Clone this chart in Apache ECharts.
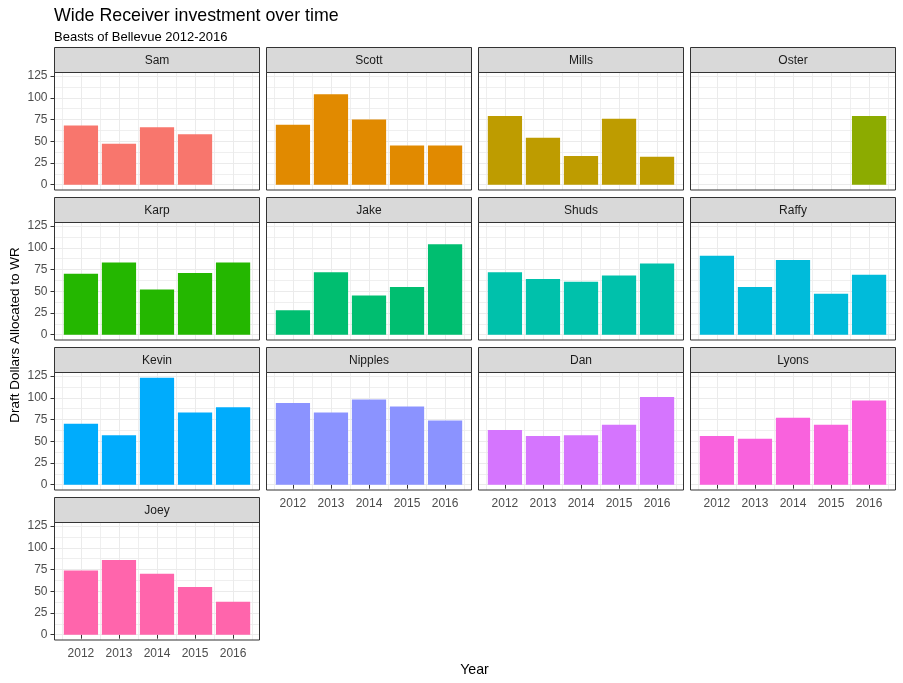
<!DOCTYPE html>
<html><head><meta charset="utf-8">
<script src="https://cdn.jsdelivr.net/npm/echarts@6/dist/echarts.min.js"></script>
<style>html,body{margin:0;padding:0;background:#fff}#c{width:903px;height:683px}</style>
</head><body><div id="c"></div>
<script>
const years = [2012, 2013, 2014, 2015, 2016];
const owners = ['Sam','Scott','Mills','Oster','Karp','Jake','Shuds','Raffy','Kevin','Nipples','Dan','Lyons','Joey'];
const sam = [68, 47, 66, 58, null];
const scott = [69, 104, 75, 45, 45];
const mills = [79, 54, 33, 76, 32];
const oster = [null, null, null, null, 79];
const karp = [70, 83, 52, 71, 83];
const jake = [28, 72, 45, 55, 104];
const shuds = [72, 64, 61, 68, 82];
const raffy = [91, 55, 86, 47, 69];
const kevin = [70, 57, 123, 83, 89];
const nipples = [94, 83, 98, 90, 74];
const dan = [63, 56, 57, 69, 101];
const lyons = [56, 53, 77, 69, 97];
const joey = [74, 86, 70, 55, 38];
const yTicks = [0, 25, 50, 75, 100, 125];
const yMinor = [12.5, 37.5, 62.5, 87.5, 112.5];
const xMinor = [2011.5, 2012.5, 2013.5, 2014.5, 2015.5, 2016.5];
const colors = ['#F8766D','#E18A00','#BE9C00','#8CAB00','#24B700','#00BE70','#00C1AB','#00BBDA','#00ACFC','#8B93FF','#D575FE','#F962DD','#FF65AC'];
const values = [sam, scott, mills, oster, karp, jake, shuds, raffy, kevin, nipples, dan, lyons, joey];

// layout
const FONT = 'Liberation Sans, Arial, sans-serif';
const colLeft = [54.5, 266.5, 478.5, 690.5];
const rowTop = [47.5, 197.5, 347.5, 497.5];
const panelW = 205, stripH = 25, plotH = 117.5;

// scale ranges (ggplot-like 5% expansion)
let vmax = 0;
values.forEach(a => a.forEach(v => { if (v != null && v > vmax) vmax = v; }));
const yMin = -0.05 * vmax, yMax = vmax * 1.05;
const xLo = years[0] - 0.45, xHi = years[years.length - 1] + 0.45;
const xPad = (xHi - xLo) * 0.05;
const xMin = xLo - xPad, xMax = xHi + xPad;
const barW = 0.9 * panelW / (xMax - xMin);

const grids = [], xAxes = [], yAxes = [], series = [], graphics = [];
const nPanels = owners.length;
owners.forEach((name, i) => {
  const col = i % 4, row = Math.floor(i / 4);
  const left = colLeft[col], top = rowTop[row];
  const isBottom = (i + 4 >= nPanels);
  const isLeft = col === 0;
  grids.push({ left: left, top: top + stripH, width: panelW, height: plotH, containLabel: false });
  // major x
  xAxes.push({
    gridIndex: i, type: 'value', min: xMin, max: xMax,
    axisLine: { show: false },
    axisTick: { show: isBottom, customValues: years, length: 4, lineStyle: { color: '#333333', width: 1 } },
    axisLabel: { show: isBottom, customValues: years, color: '#4D4D4D', fontSize: 12, fontFamily: FONT, margin: 8, formatter: v => String(v) },
    splitLine: { show: true, lineStyle: { color: '#EBEBEB', width: 1 } }
  });
  // minor x
  xAxes.push({
    gridIndex: i, type: 'value', min: xMin, max: xMax,
    axisLine: { show: false },
    axisTick: { show: false, customValues: xMinor },
    axisLabel: { show: false, customValues: xMinor },
    splitLine: { show: true, lineStyle: { color: '#EBEBEB', width: 0.8 } }
  });
  yAxes.push({
    gridIndex: i, type: 'value', min: yMin, max: yMax,
    axisLine: { show: false },
    axisTick: { show: isLeft, customValues: yTicks, length: 4, lineStyle: { color: '#333333', width: 1 } },
    axisLabel: { show: isLeft, customValues: yTicks, color: '#4D4D4D', fontSize: 12, fontFamily: FONT, margin: 7 },
    splitLine: { show: true, lineStyle: { color: '#EBEBEB', width: 1 } }
  });
  yAxes.push({
    gridIndex: i, type: 'value', min: yMin, max: yMax,
    axisLine: { show: false },
    axisTick: { show: false, customValues: yMinor },
    axisLabel: { show: false, customValues: yMinor },
    splitLine: { show: true, lineStyle: { color: '#EBEBEB', width: 0.8 } }
  });
  series.push({
    type: 'bar', name: name, xAxisIndex: 2 * i, yAxisIndex: 2 * i,
    barWidth: barW,
    itemStyle: { color: colors[i] },
    data: years.map((y, k) => [y, values[i][k]]).filter(d => d[1] != null),
    z: 5
  });
  // strip
  graphics.push({ type: 'rect', shape: { x: left, y: top, width: panelW, height: stripH },
    style: { fill: '#D9D9D9', stroke: '#333333', lineWidth: 1 }, z: 100 });
  graphics.push({ type: 'text', x: left + panelW / 2, y: top + stripH / 2 + 0.5,
    style: { text: name, fill: '#1A1A1A', font: '12px ' + FONT, textAlign: 'center', textVerticalAlign: 'middle' }, z: 101 });
  // panel border
  graphics.push({ type: 'rect', shape: { x: left, y: top + stripH, width: panelW, height: plotH },
    style: { fill: 'none', stroke: '#333333', lineWidth: 1 }, z: 100 });
});

graphics.push({ type: 'text', x: 54, y: 16,
  style: { text: 'Wide Receiver investment over time', fill: '#000', font: '17.8px ' + FONT, textAlign: 'left', textVerticalAlign: 'middle' }, z: 101 });
graphics.push({ type: 'text', x: 54, y: 37.5,
  style: { text: 'Beasts of Bellevue 2012-2016', fill: '#000', font: '13px ' + FONT, textAlign: 'left', textVerticalAlign: 'middle' }, z: 101 });
graphics.push({ type: 'text', x: 474.5, y: 670.5,
  style: { text: 'Year', fill: '#000', font: '14.2px ' + FONT, textAlign: 'center', textVerticalAlign: 'middle' }, z: 101 });
graphics.push({ type: 'text', x: 15, y: 335, rotation: Math.PI / 2,
  style: { text: 'Draft Dollars Allocated to WR', fill: '#000', font: '13.5px ' + FONT, textAlign: 'center', textVerticalAlign: 'middle' }, z: 101 });

const chart = echarts.init(document.getElementById('c'), null, { renderer: 'canvas' });
chart.setOption({
  animation: false,
  backgroundColor: '#fff',
  grid: grids, xAxis: xAxes, yAxis: yAxes, series: series,
  graphic: { elements: graphics }
});
</script></body></html>
